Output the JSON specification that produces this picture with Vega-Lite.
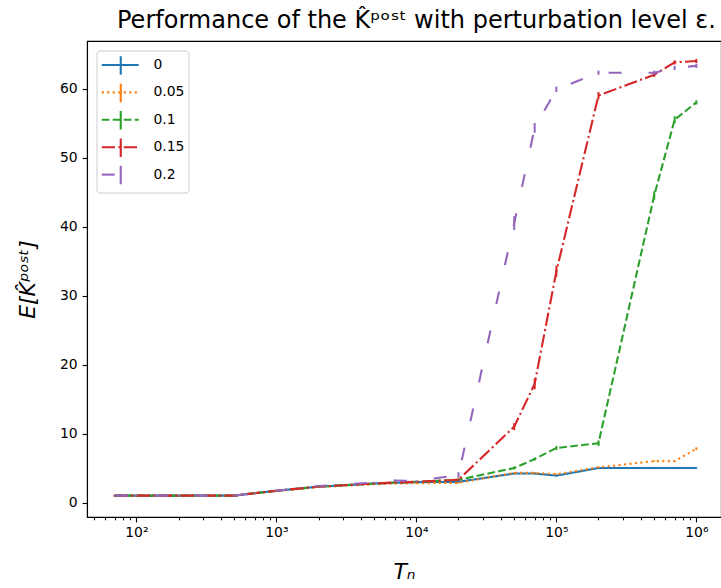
{
  "$schema": "https://vega.github.io/schema/vega-lite/v6.json",
  "width": 634,
  "height": 476,
  "autosize": {"type": "none"},
  "padding": {"left": 87, "top": 41, "right": 0, "bottom": 71},
  "config": {
    "font": "DejaVu Sans",
    "view": {"stroke": "black", "strokeWidth": 1.1},
    "axis": {"grid": false, "domainColor": "black", "domainWidth": 1.1, "tickColor": "black", "tickWidth": 1.1, "labelColor": "black", "titleColor": "black", "labelFontSize": 13.9, "titleFontWeight": "normal", "labelFont": "DejaVu Sans", "titleFont": "DejaVu Sans"}
  },
  "title": {"text": "Performance of the K̂ᵖᵒˢᵗ with perturbation level ε.", "anchor": "start", "frame": "group", "dx": 30, "fontSize": 24, "fontWeight": "normal", "font": "DejaVu Sans", "offset": 8, "color": "black"},
  "data": {"values": [
    {"T":70,"eps":"0","k":1,"err":0.1},{"T":100,"eps":"0","k":1,"err":0.1},{"T":200,"eps":"0","k":1,"err":0.1},{"T":500,"eps":"0","k":1,"err":0.1},{"T":700,"eps":"0","k":1.35,"err":0.1},{"T":1000,"eps":"0","k":1.7,"err":0.1},{"T":2000,"eps":"0","k":2.3,"err":0.1},{"T":5000,"eps":"0","k":2.75,"err":0.1},{"T":7000,"eps":"0","k":2.85,"err":0.1},{"T":10000,"eps":"0","k":2.95,"err":0.1},{"T":20000,"eps":"0","k":3.0,"err":0.1},{"T":50000,"eps":"0","k":4.2,"err":0.1},{"T":70000,"eps":"0","k":4.2,"err":0.1},{"T":100000,"eps":"0","k":3.9,"err":0.1},{"T":200000,"eps":"0","k":5.0,"err":0.1},{"T":500000,"eps":"0","k":5.0,"err":0.1},{"T":700000,"eps":"0","k":5.0,"err":0.1},{"T":1000000,"eps":"0","k":5.0,"err":0.1},
    {"T":70,"eps":"0.05","k":1,"err":0.1},{"T":100,"eps":"0.05","k":1,"err":0.1},{"T":200,"eps":"0.05","k":1,"err":0.1},{"T":500,"eps":"0.05","k":1,"err":0.1},{"T":700,"eps":"0.05","k":1.35,"err":0.1},{"T":1000,"eps":"0.05","k":1.65,"err":0.1},{"T":2000,"eps":"0.05","k":2.25,"err":0.1},{"T":5000,"eps":"0.05","k":2.65,"err":0.1},{"T":7000,"eps":"0.05","k":2.75,"err":0.1},{"T":10000,"eps":"0.05","k":2.8,"err":0.1},{"T":20000,"eps":"0.05","k":2.85,"err":0.1},{"T":50000,"eps":"0.05","k":4.3,"err":0.1},{"T":70000,"eps":"0.05","k":4.3,"err":0.1},{"T":100000,"eps":"0.05","k":4.1,"err":0.1},{"T":200000,"eps":"0.05","k":5.1,"err":0.1},{"T":500000,"eps":"0.05","k":6.0,"err":0.1},{"T":700000,"eps":"0.05","k":6.0,"err":0.1},{"T":1000000,"eps":"0.05","k":7.8,"err":0.2},
    {"T":70,"eps":"0.1","k":1,"err":0.1},{"T":100,"eps":"0.1","k":1,"err":0.1},{"T":200,"eps":"0.1","k":1,"err":0.1},{"T":500,"eps":"0.1","k":1,"err":0.1},{"T":700,"eps":"0.1","k":1.35,"err":0.1},{"T":1000,"eps":"0.1","k":1.7,"err":0.1},{"T":2000,"eps":"0.1","k":2.3,"err":0.1},{"T":5000,"eps":"0.1","k":2.75,"err":0.1},{"T":7000,"eps":"0.1","k":2.9,"err":0.1},{"T":10000,"eps":"0.1","k":3.0,"err":0.1},{"T":20000,"eps":"0.1","k":3.3,"err":0.1},{"T":50000,"eps":"0.1","k":5.0,"err":0.2},{"T":70000,"eps":"0.1","k":6.3,"err":0.2},{"T":100000,"eps":"0.1","k":7.9,"err":0.3},{"T":200000,"eps":"0.1","k":8.6,"err":0.4},{"T":500000,"eps":"0.1","k":44.5,"err":0.6},{"T":700000,"eps":"0.1","k":55.5,"err":0.5},{"T":1000000,"eps":"0.1","k":58.0,"err":0.3},
    {"T":70,"eps":"0.15","k":1,"err":0.1},{"T":100,"eps":"0.15","k":1,"err":0.1},{"T":200,"eps":"0.15","k":1,"err":0.1},{"T":500,"eps":"0.15","k":1,"err":0.1},{"T":700,"eps":"0.15","k":1.35,"err":0.1},{"T":1000,"eps":"0.15","k":1.7,"err":0.1},{"T":2000,"eps":"0.15","k":2.3,"err":0.1},{"T":5000,"eps":"0.15","k":2.75,"err":0.1},{"T":7000,"eps":"0.15","k":2.9,"err":0.1},{"T":10000,"eps":"0.15","k":3.0,"err":0.1},{"T":20000,"eps":"0.15","k":3.3,"err":0.2},{"T":50000,"eps":"0.15","k":11.0,"err":0.5},{"T":70000,"eps":"0.15","k":17.2,"err":0.8},{"T":100000,"eps":"0.15","k":33.5,"err":0.8},{"T":200000,"eps":"0.15","k":59.0,"err":0.5},{"T":500000,"eps":"0.15","k":62.0,"err":0.3},{"T":700000,"eps":"0.15","k":63.8,"err":0.3},{"T":1000000,"eps":"0.15","k":64.0,"err":0.3},
    {"T":70,"eps":"0.2","k":1,"err":0.1},{"T":100,"eps":"0.2","k":1,"err":0.1},{"T":200,"eps":"0.2","k":1,"err":0.1},{"T":500,"eps":"0.2","k":1,"err":0.1},{"T":700,"eps":"0.2","k":1.35,"err":0.1},{"T":1000,"eps":"0.2","k":1.7,"err":0.1},{"T":2000,"eps":"0.2","k":2.4,"err":0.1},{"T":5000,"eps":"0.2","k":2.9,"err":0.1},{"T":7000,"eps":"0.2","k":3.2,"err":0.1},{"T":10000,"eps":"0.2","k":3.1,"err":0.1},{"T":20000,"eps":"0.2","k":4.0,"err":0.4},{"T":50000,"eps":"0.2","k":40.5,"err":1.0},{"T":70000,"eps":"0.2","k":54.3,"err":0.7},{"T":100000,"eps":"0.2","k":59.9,"err":0.4},{"T":200000,"eps":"0.2","k":62.3,"err":0.3},{"T":500000,"eps":"0.2","k":62.3,"err":0.3},{"T":700000,"eps":"0.2","k":63.0,"err":0.3},{"T":1000000,"eps":"0.2","k":63.3,"err":0.3}
  ]},
  "encoding": {
    "x": {
      "field": "T", "type": "quantitative",
      "scale": {"type": "log", "domain": [44.4, 1500000], "nice": false},
      "axis": {
        "title": "Tₙ", "titleFontSize": 22, "titleFontStyle": "italic", "titlePadding": 22,
        "values": [50,60,70,80,90,100,200,300,400,500,600,700,800,900,1000,2000,3000,4000,5000,6000,7000,8000,9000,10000,20000,30000,40000,50000,60000,70000,80000,90000,100000,200000,300000,400000,500000,600000,700000,800000,900000,1000000],
        "labelExpr": "{'100':'10²','1000':'10³','10000':'10⁴','100000':'10⁵','1000000':'10⁶'}[''+datum.value] || ''",
        "tickSize": {"condition": {"test": "indexof([100,1000,10000,100000,1000000], datum.value) >= 0", "value": 4.9}, "value": 2.8},
        "labelPadding": 4, "labelOverlap": false, "labelFlush": false
      }
    },
    "y": {
      "field": "k", "type": "quantitative",
      "scale": {"domain": [-2.1, 66.9], "nice": false, "zero": false},
      "axis": {"title": "E[K̂ᵖᵒˢᵗ]", "titleFontSize": 22, "titleFontStyle": "italic", "titlePadding": 20, "values": [0,10,20,30,40,50,60], "tickSize": 4.9, "labelPadding": 4.9}
    },
    "color": {
      "field": "eps", "type": "nominal",
      "scale": {"domain": ["0","0.05","0.1","0.15","0.2"], "range": ["#1f77b4","#ff7f0e","#2ca02c","#d62728","#9467bd"]},
      "legend": {"orient": "top-left", "offset": 9.5, "title": null, "symbolType": "M1,-1V1M-1,0M3,0", "symbolSize": 342, "symbolStrokeWidth": 2.1, "labelFontSize": 13.9, "labelColor": "transparent", "padding": 4, "rowPadding": 0.4, "labelOffset": 32,
        "encode": {"symbols": {"update": {"strokeDash": {"value": [1, 0]}}}}}
    }
  },
  "layer": [
    {
      "mark": {"type": "line", "strokeWidth": 2.1, "strokeCap": "butt"},
      "encoding": {
        "strokeDash": {
          "field": "eps", "type": "nominal",
          "scale": {"domain": ["0","0.05","0.1","0.15","0.2"], "range": [[1,0],[2.1,3.4],[7.7,3.3],[13.3,3.3,2.1,3.3],[13,27]]},
          "legend": {"orient": "none", "legendX": 9.5, "legendY": 9.5, "title": null, "symbolType": "M-1,0H3M1,-1M1,1", "symbolSize": 342, "symbolStrokeWidth": 2.1, "labelFontSize": 13.9, "labelColor": "black", "padding": 4, "rowPadding": 0.4, "labelOffset": 32, "strokeColor": "#cccccc", "cornerRadius": 3,
            "encode": {"symbols": {"update": {"stroke": {"scale": "color", "field": "value"}}}}}
        }
      }
    },
    {
      "mark": {"type": "errorbar", "thickness": 2},
      "encoding": {"yError": {"field": "err"}}
    }
  ]
}
